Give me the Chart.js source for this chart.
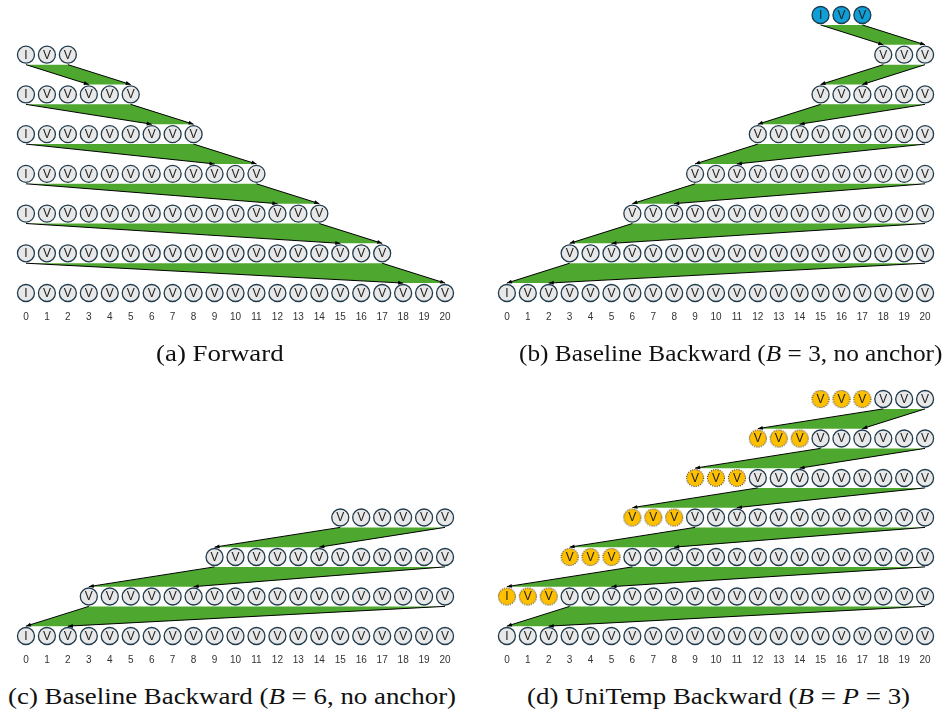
<!DOCTYPE html>
<html>
<head>
<meta charset="utf-8">
<script src="https://cdn.jsdelivr.net/npm/chart.js@4.4.1/dist/chart.umd.min.js"></script>
<style>
  body { margin: 0; background: #fff; width: 944px; height: 713px; position: relative; overflow: hidden; }
  canvas { position: absolute; }
  .cap { position: absolute; font-family: "Liberation Serif", serif; font-size: 24px; color: #111; white-space: nowrap; transform-origin: 0 50%; line-height: 28px; }
</style>
</head>
<body>
<canvas id="fwd" width="461" height="330" style="left:5px;top:0px"></canvas>
<canvas id="b3" width="460" height="330" style="left:486px;top:0px"></canvas>
<canvas id="b6" width="461" height="330" style="left:5px;top:343px"></canvas>
<canvas id="uni" width="460" height="330" style="left:486px;top:343px"></canvas>

<div class="cap" id="capA" style="top:339px">(a) Forward</div>
<div class="cap" id="capB" style="top:339px">(b) Baseline Backward (<i>B</i> = 3, no anchor)</div>
<div class="cap" id="capC" style="top:682px">(c) Baseline Backward (<i>B</i> = 6, no anchor)</div>
<div class="cap" id="capD" style="top:682px">(d) UniTemp Backward (<i>B</i> = <i>P</i> = 3)</div>

<script>
// tick labels under every panel
const TICKS = [0, 1, 2, 3, 4, 5, 6, 7, 8, 9, 10, 11, 12, 13, 14, 15, 16, 17, 18, 19, 20];

// rows listed top to bottom: [first index, last index]
// bands: [upper first, upper last, lower first, lower last]
const FWD_ROWS = [[0, 2], [0, 5], [0, 8], [0, 11], [0, 14], [0, 17], [0, 20]];
const FWD_BANDS = [[0, 2, 3, 5], [0, 5, 6, 8], [0, 8, 9, 11], [0, 11, 12, 14], [0, 14, 15, 17], [0, 17, 18, 20]];

const B3_ROWS = [[15, 17], [18, 20], [15, 20], [12, 20], [9, 20], [6, 20], [3, 20], [0, 20]];
const B3_BLUE_ROWS = [0];
const B3_BANDS = [[15, 17, 18, 20], [18, 20, 15, 17], [15, 20, 12, 14], [12, 20, 9, 11], [9, 20, 6, 8], [6, 20, 3, 5], [3, 20, 0, 2]];

const B6_ROWS = [[15, 20], [9, 20], [3, 20], [0, 20]];
const B6_BANDS = [[15, 20, 9, 14], [9, 20, 3, 8], [3, 20, 0, 2]];

const UNI_ROWS = [[15, 20], [12, 20], [9, 20], [6, 20], [3, 20], [0, 20], [0, 20]];
const UNI_ORANGE = [[15, 17], [12, 14], [9, 11], [6, 8], [3, 5], [0, 2], null];
const UNI_BANDS = [[18, 20, 12, 17], [15, 20, 9, 14], [12, 20, 6, 11], [9, 20, 3, 8], [6, 20, 0, 5], [3, 20, 0, 2]];

const GREEN = '#4ea72e';
const GRAY = '#e8e8e8';
const BLUE = '#0f9ed5';
const ORANGE = '#ffc000';
const EDGE = '#1f3b4d';
const R = 8.5;
const GAP = 0.25; // band starts just below the circles

// dotted orange marker, drawn once and used as a pointStyle
function dottedDot(fill, r) {
  const c = document.createElement('canvas');
  c.width = c.height = 22;
  const g = c.getContext('2d');
  g.beginPath();
  g.arc(11, 11, r, 0, Math.PI * 2);
  g.fillStyle = fill;
  g.fill();
  g.setLineDash([1, 1.3]);
  g.lineWidth = 1.1;
  g.strokeStyle = '#333';
  g.stroke();
  return c;
}
const orangeDot = dottedDot(ORANGE, R);

// arrow heads at the end of each arrow line
const arrowHeads = {
  id: 'arrowHeads',
  afterDatasetDraw(chart, args) {
    const ds = chart.data.datasets[args.index];
    if (!ds.arrow) return;
    const pts = args.meta.data;
    const a = pts[0], b = pts[1];
    const ang = Math.atan2(b.y - a.y, b.x - a.x);
    const ctx = chart.ctx;
    ctx.save();
    ctx.translate(b.x, b.y);
    ctx.rotate(ang);
    ctx.beginPath();
    ctx.moveTo(0, 0);
    ctx.lineTo(-5, -2);
    ctx.lineTo(-5, 2);
    ctx.closePath();
    ctx.fillStyle = '#000';
    ctx.fill();
    ctx.restore();
  }
};

// I / V letters inside the circles
const circleText = {
  id: 'circleText',
  afterDatasetsDraw(chart) {
    const ctx = chart.ctx;
    ctx.save();
    ctx.font = '12px "Liberation Sans", Arial, sans-serif';
    ctx.fillStyle = '#222';
    ctx.textAlign = 'center';
    ctx.textBaseline = 'middle';
    chart.data.datasets.forEach((ds, i) => {
      if (!ds.labels) return;
      chart.getDatasetMeta(i).data.forEach((p, j) => {
        ctx.fillText(ds.labels[j], p.x, p.y + 0.5);
      });
    });
    ctx.restore();
  }
};

function buildDatasets(rows, bands, blueRows, orange) {
  const n = rows.length;
  const sets = { gray: [], blue: [], orange: [] };
  const labs = { gray: [], blue: [], orange: [] };
  rows.forEach((r, i) => {
    const y = n - 1 - i;
    for (let x = r[0]; x <= r[1]; x++) {
      let kind = 'gray';
      if (blueRows && blueRows.includes(i)) kind = 'blue';
      else if (orange && orange[i] && x >= orange[i][0] && x <= orange[i][1]) kind = 'orange';
      sets[kind].push({ x: x, y: y });
      labs[kind].push(x === 0 || (kind === 'blue' && x === r[0]) ? 'I' : 'V');
    }
  });

  const out = [];
  bands.forEach((b, i) => {
    const yU = n - 1 - i - GAP;
    const yL = n - 2 - i + GAP;
    out.push({
      type: 'line',
      data: [{ x: b[0], y: yU }, { x: b[1], y: yU }, { x: b[3], y: yL }, { x: b[2], y: yL }],
      backgroundColor: GREEN,
      borderWidth: 0,
      pointRadius: 0,
      fill: 'shape',
      order: 3
    });
    out.push({
      type: 'line', arrow: true,
      data: [{ x: b[0], y: yU }, { x: b[2], y: yL }],
      borderColor: '#000', borderWidth: 1, pointRadius: 0, fill: false, order: 2
    });
    out.push({
      type: 'line', arrow: true,
      data: [{ x: b[1], y: yU }, { x: b[3], y: yL }],
      borderColor: '#000', borderWidth: 1, pointRadius: 0, fill: false, order: 2
    });
  });

  out.push({
    data: sets.gray, labels: labs.gray,
    pointRadius: R, pointBackgroundColor: GRAY, pointBorderColor: EDGE, pointBorderWidth: 1.3, order: 1
  });
  if (sets.blue.length) out.push({
    data: sets.blue, labels: labs.blue,
    pointRadius: R, pointBackgroundColor: BLUE, pointBorderColor: EDGE, pointBorderWidth: 1.3, order: 1
  });
  if (sets.orange.length) out.push({
    data: sets.orange, labels: labs.orange,
    pointStyle: orangeDot, pointRadius: R, order: 1
  });
  return out;
}

function drawPanel(id, rows, bands, blueRows, orange, ymin, ymax) {
  new Chart(document.getElementById(id), {
    type: 'scatter',
    data: { datasets: buildDatasets(rows, bands, blueRows, orange) },
    options: {
      responsive: false,
      animation: false,
      clip: false,
      layout: { padding: 0, autoPadding: false },
      plugins: { legend: { display: false }, tooltip: { enabled: false } },
      events: [],
      scales: {
        x: {
          type: 'linear', min: -1, max: 21,
          afterBuildTicks: ax => { ax.ticks = TICKS.map(v => ({ value: v })); },
          afterFit: ax => { ax.height = 20; ax.paddingLeft = 0; ax.paddingRight = 0; },
          grid: { display: false, drawTicks: false },
          border: { display: false },
          ticks: {
            autoSkip: false, maxRotation: 0, padding: 1, color: '#333',
            font: { size: 10, family: '"Liberation Sans", Arial, sans-serif' },
            callback: v => String(v)
          }
        },
        y: { display: false, min: ymin, max: ymax }
      }
    },
    plugins: [arrowHeads, circleText]
  });
}

drawPanel('fwd', FWD_ROWS, FWD_BANDS, null, null, -0.428, 7.378);
drawPanel('b3', B3_ROWS, B3_BANDS, B3_BLUE_ROWS, null, -0.428, 7.378);
drawPanel('b6', B6_ROWS, B6_BANDS, null, null, -0.430, 7.418);
drawPanel('uni', UNI_ROWS, UNI_BANDS, null, UNI_ORANGE, -0.430, 7.418);

// captions: stretch the serif face to the width of the original subcaptions
const capC = document.getElementById('capC');
const s = 448 / capC.offsetWidth;
function placeCap(id, left, center, width) {
  const el = document.getElementById(id);
  const k = width ? width / el.offsetWidth : s;
  el.style.transform = 'scaleX(' + k + ')';
  el.style.left = (center === null ? left : center - el.offsetWidth * k / 2) + 'px';
}
placeCap('capA', 0, 220);
placeCap('capB', 519, null, 423);
placeCap('capC', 8, null);
placeCap('capD', 0, 719);
</script>
</body>
</html>
